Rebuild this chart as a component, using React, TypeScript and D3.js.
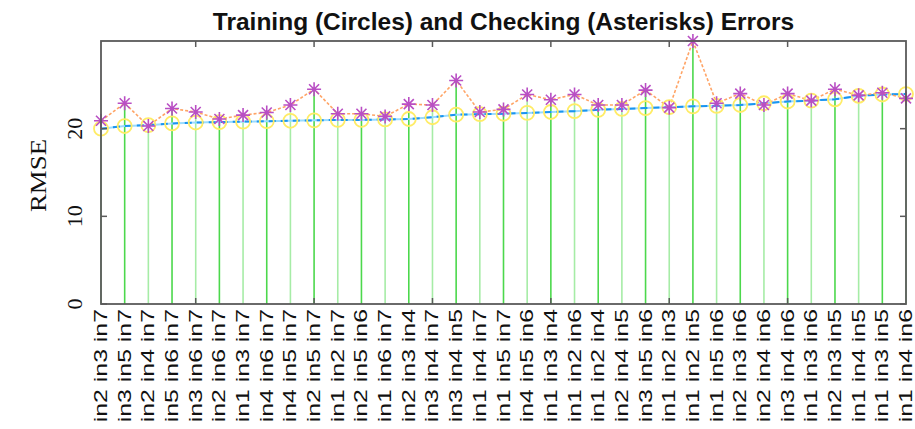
import React, { useEffect, useRef } from 'react';
import * as d3 from 'd3';

const inputCombos = [
  'in2 in3 in7', 'in3 in5 in7', 'in2 in4 in7', 'in5 in6 in7', 'in3 in6 in7',
  'in2 in6 in7', 'in1 in3 in7', 'in4 in6 in7', 'in4 in5 in7', 'in2 in5 in7',
  'in1 in2 in7', 'in2 in5 in6', 'in1 in6 in7', 'in2 in3 in4', 'in3 in4 in7',
  'in3 in4 in5', 'in1 in4 in7', 'in1 in5 in7', 'in4 in5 in6', 'in1 in3 in4',
  'in1 in2 in6', 'in1 in2 in4', 'in2 in4 in5', 'in3 in5 in6', 'in1 in2 in3',
  'in1 in2 in5', 'in1 in5 in6', 'in2 in3 in6', 'in2 in4 in6', 'in3 in4 in6',
  'in1 in3 in6', 'in2 in3 in5', 'in1 in4 in5', 'in1 in3 in5', 'in1 in4 in6',
];

const trainingError = [
  20.0, 20.3, 20.4, 20.6, 20.7, 20.75, 20.8, 20.85, 20.9, 20.95,
  21.0, 21.0, 21.05, 21.1, 21.3, 21.6, 21.65, 21.7, 21.8, 21.9,
  22.0, 22.15, 22.25, 22.35, 22.45, 22.55, 22.6, 22.7, 22.9, 23.1,
  23.2, 23.35, 23.75, 23.9, 23.95,
];

const checkingError = [
  20.9, 22.9, 20.3, 22.3, 21.9, 21.1, 21.55, 21.85, 22.7, 24.5,
  21.7, 21.7, 21.4, 22.8, 22.7, 25.5, 21.9, 22.2, 23.9, 23.3,
  23.9, 22.7, 22.7, 24.4, 22.4, 30.0, 22.9, 24.0, 22.7, 24.0,
  23.2, 24.5, 23.8, 24.1, 23.45,
];

const yTicks = [0, 10, 20];
const xTicks = [5, 10, 15, 20, 25, 30];

export default function App() {
  const ref = useRef<SVGSVGElement>(null);

  useEffect(() => {
    if (!ref.current) return;
    const svg = d3.select(ref.current);
    svg.selectAll('*').remove();

    const left = 101, right = 906, top = 41, bottom = 304;
    const n = inputCombos.length;
    const idx = d3.range(1, n + 1);

    const x = d3.scaleLinear().domain([1, n]).range([left, right]);
    const y = d3.scaleLinear().domain([0, d3.max(checkingError)!]).range([bottom, top]);

    // stems
    svg.append('g')
      .selectAll('line')
      .data(idx)
      .join('line')
      .attr('x1', (d) => x(d)).attr('x2', (d) => x(d))
      .attr('y1', y(0))
      .attr('y2', (d) => y(checkingError[d - 1]))
      .attr('stroke', (d) => (d % 2 === 1 ? '#a6eca6' : '#4cd84c'))
      .attr('stroke-width', 1.6);

    const lineOf = (vals: number[]) =>
      d3.line<number>().x((d) => x(d)).y((d) => y(vals[d - 1]))(idx);

    // training line
    svg.append('path')
      .attr('d', lineOf(trainingError))
      .attr('fill', 'none')
      .attr('stroke', '#9adcff')
      .attr('stroke-width', 2);
    svg.append('path')
      .attr('d', lineOf(trainingError))
      .attr('fill', 'none')
      .attr('stroke', '#1a94f0')
      .attr('stroke-width', 2)
      .attr('stroke-dasharray', '7 5');

    // checking line
    svg.append('path')
      .attr('d', lineOf(checkingError))
      .attr('fill', 'none')
      .attr('stroke', '#ffa466')
      .attr('stroke-width', 1.6)
      .attr('stroke-dasharray', '3 2');

    // circles
    svg.append('g')
      .selectAll('circle')
      .data(idx)
      .join('circle')
      .attr('cx', (d) => x(d))
      .attr('cy', (d) => y(trainingError[d - 1]))
      .attr('r', 7)
      .attr('fill', 'none')
      .attr('stroke', '#ffec66')
      .attr('stroke-width', 1.8);

    // asterisks
    const s = 7, sd = 5;
    svg.append('g')
      .selectAll('path')
      .data(idx)
      .join('path')
      .attr('transform', (d) => `translate(${x(d)},${y(checkingError[d - 1])})`)
      .attr('d', `M${-s},0L${s},0M0,${-s}L0,${s}M${-sd},${-sd}L${sd},${sd}M${-sd},${sd}L${sd},${-sd}`)
      .attr('stroke', '#b94fc4')
      .attr('stroke-width', 1.6)
      .attr('fill', 'none');

    // axes box
    const axisColor = '#5a5a5a';
    svg.append('rect')
      .attr('x', left).attr('y', top)
      .attr('width', right - left).attr('height', bottom - top)
      .attr('fill', 'none')
      .attr('stroke', axisColor)
      .attr('stroke-width', 1.8);

    // y ticks (inside, both sides)
    yTicks.forEach((t) => {
      svg.append('line').attr('x1', left).attr('x2', left + 6)
        .attr('y1', y(t)).attr('y2', y(t)).attr('stroke', axisColor).attr('stroke-width', 1.5);
      svg.append('line').attr('x1', right).attr('x2', right - 6)
        .attr('y1', y(t)).attr('y2', y(t)).attr('stroke', axisColor).attr('stroke-width', 1.5);
      svg.append('text')
        .attr('transform', `translate(${left - 19},${y(t)}) rotate(-90)`)
        .attr('text-anchor', 'middle')
        .attr('font-family', '"Liberation Serif", "Times New Roman", serif')
        .attr('font-size', 22)
        .attr('fill', '#111')
        .text(t);
    });

    // x ticks (inside, top and bottom)
    xTicks.forEach((t) => {
      svg.append('line').attr('x1', x(t)).attr('x2', x(t))
        .attr('y1', top).attr('y2', top + 6).attr('stroke', axisColor).attr('stroke-width', 1.5);
      svg.append('line').attr('x1', x(t)).attr('x2', x(t))
        .attr('y1', bottom).attr('y2', bottom - 6).attr('stroke', axisColor).attr('stroke-width', 1.5);
    });

    // x labels, rotated
    svg.append('g')
      .selectAll('text')
      .data(idx)
      .join('text')
      .attr('transform', (d) => `translate(${x(d) + 6},${bottom + 5}) rotate(-90) scale(1.42,1)`)
      .attr('text-anchor', 'end')
      .attr('font-family', '"Liberation Sans", Arial, sans-serif')
      .attr('font-size', 17.5)
      .attr('fill', '#111')
      .text((d) => inputCombos[d - 1]);

    // y label
    svg.append('text')
      .attr('transform', `translate(46,${(top + bottom) / 2 + 3}) rotate(-90) scale(1.12,1)`)
      .attr('text-anchor', 'middle')
      .attr('font-family', '"Liberation Serif", "Times New Roman", serif')
      .attr('font-size', 24)
      .attr('fill', '#111')
      .text('RMSE');

    // title
    svg.append('text')
      .attr('x', (left + right) / 2)
      .attr('y', 30)
      .attr('text-anchor', 'middle')
      .attr('font-family', '"Liberation Sans", Arial, sans-serif')
      .attr('font-weight', 'bold')
      .attr('font-size', 24.5)
      .attr('fill', '#111')
      .text('Training (Circles) and Checking (Asterisks) Errors');
  }, []);

  return (
    <svg
      ref={ref}
      width={915}
      height={429}
      style={{ position: 'absolute', left: 0, top: 0, background: '#fff' }}
    />
  );
}
